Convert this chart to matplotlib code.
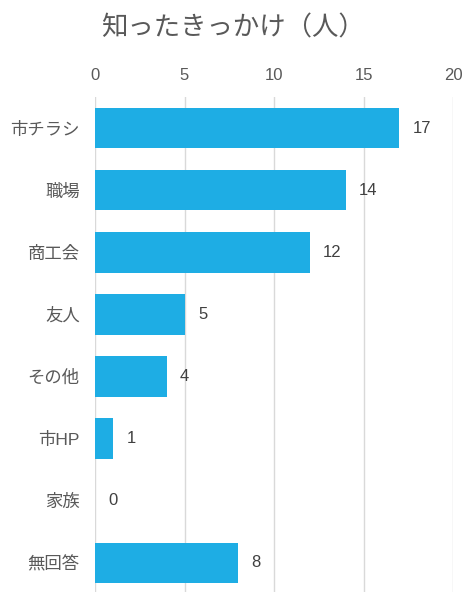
import matplotlib
matplotlib.use("Agg")
import matplotlib.pyplot as plt

plt.rcParams['font.family'] = ['Liberation Sans', 'Noto Sans CJK JP', 'DejaVu Sans']

categories = ['市チラシ', '職場', '商工会', '友人', 'その他', '市HP', '家族', '無回答']
counts = [17, 14, 12, 5, 4, 1, 0, 8]
xticks = [0, 5, 10, 15, 20]

bar_color = '#1EADE4'
text_color = '#595959'
grid_color = '#D9D9D9'

fig = plt.figure(figsize=(4.65, 5.92), dpi=100)
ax = fig.add_axes([0.2043, 0.0, 0.9742 - 0.2043, 0.836])

y = list(range(len(categories)))
ax.barh(y, counts, height=0.65, color=bar_color, zorder=3)

ax.set_xlim(0, 20)
ax.set_ylim(7.47, -0.5)
ax.set_xticks(xticks)
ax.xaxis.tick_top()
ax.tick_params(axis='x', length=0, pad=10, labelsize=12, labelcolor=text_color)
ax.set_yticks(y)
ax.set_yticklabels(categories)
ax.tick_params(axis='y', length=0, pad=11, labelsize=12.5, labelcolor=text_color)

ax.grid(axis='x', color=grid_color, linewidth=1, zorder=0)
for s in ax.spines.values():
    s.set_visible(False)

for yi, v in zip(y, counts):
    ax.text(v + 0.75, yi, str(v), va='center', ha='left', fontsize=12, color='#404040')

fig.text(0.5, 0.953, '知ったきっかけ（人）', ha='center', va='center',
         fontsize=19, color=text_color)

fig.savefig('out.png', dpi=100)
